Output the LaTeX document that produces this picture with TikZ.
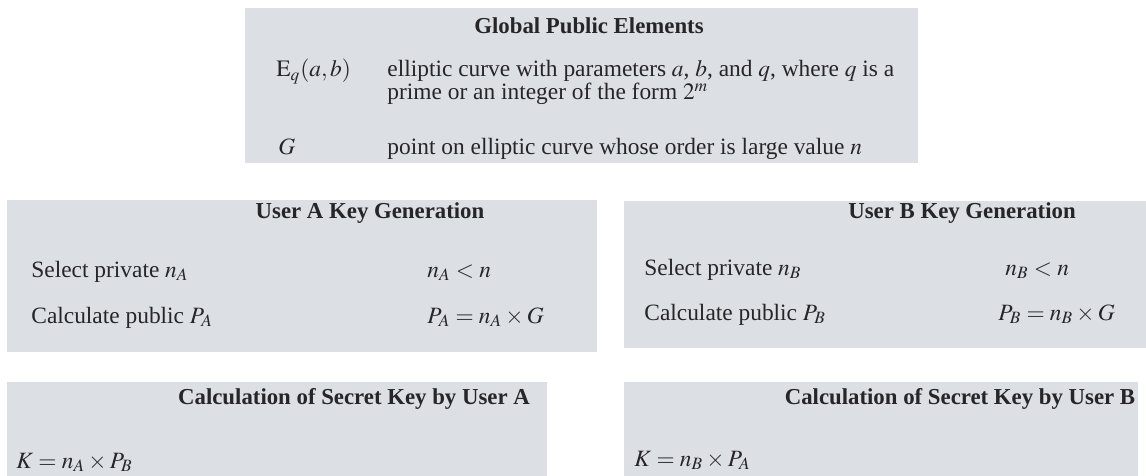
\documentclass[tikz,border=0pt]{standalone}
\usepackage{mathptmx}
\usepackage{fontspec}
\setmainfont{Liberation Serif}
\usetikzlibrary{positioning}
\definecolor{panelgray}{RGB}{220,223,227}
\definecolor{ink}{RGB}{38,38,40}

\begin{document}
\begin{tikzpicture}[
x=0.5pt, y=-0.5pt,
panel/.style={fill=panelgray, draw=none},
head/.style={font=\fontsize{11.4}{13}\selectfont\bfseries, text=ink, anchor=base, inner sep=0pt},
item/.style={font=\fontsize{11.7}{11.6}\selectfont, text=ink, anchor=base west, inner sep=0pt}
]
\useasboundingbox (0,0) rectangle (1146,476);

\fill[panel] (245,8) rectangle (918,163);
\fill[panel] (7,200) rectangle (597,352);
\fill[panel] (624,201) rectangle (1146,348);
\fill[panel] (7,382) rectangle (547,476);
\fill[panel] (624,382) rectangle (1138,476);

\node[head] (glob) at (589,34) {Global Public Elements};
\node[item] (curve) at (276,77) {$\mathrm{E}_q(a, b)$};
\node[item, align=left] (curvetxt) at (387,100) {elliptic curve with parameters $a$, $b$, and $q$, where $q$ is a\\prime or an integer of the form $2^m$};
\node[item] (gen) at (278,155) {$G$};
\node[item] (gentxt) at (387,155) {point on elliptic curve whose order is large value $n$};

\node[head] (keya) at (370,218) {User A Key Generation};
\node[item] (selA) at (31,277) {Select private $n_A$};
\node[item] (condA) at (427,277) {$n_A < n$};
\node[item] (pubA) at (31,323) {Calculate public $P_A$};
\node[item] (eqA) at (427,323) {$P_A = n_A \times G$};

\node[head] (keyb) at (962,218) {User B Key Generation};
\node[item] (selB) at (644,275) {Select private $n_B$};
\node[item] (condB) at (1005,275) {$n_B < n$};
\node[item] (pubB) at (644,320) {Calculate public $P_B$};
\node[item] (eqB) at (998,320) {$P_B = n_B \times G$};

\node[head] (seca) at (354,404) {Calculation of Secret Key by User A};
\node[item] (kA) at (16,468) {$K = n_A \times P_B$};

\node[head] (secb) at (960,404) {Calculation of Secret Key by User B};
\node[item] (kB) at (634,466) {$K = n_B \times P_A$};
\end{tikzpicture}
\end{document}
